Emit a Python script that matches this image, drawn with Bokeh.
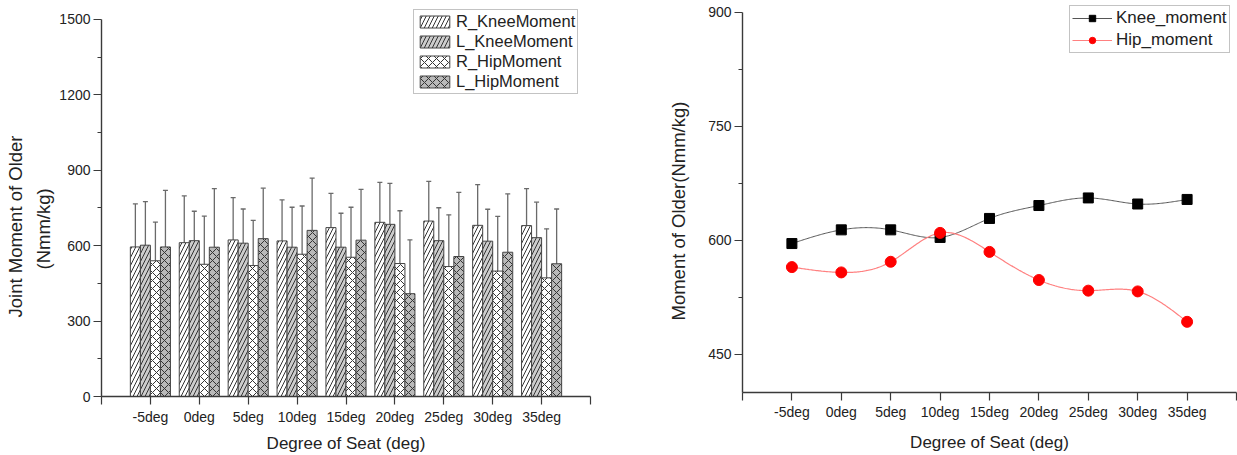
import numpy as np
from bokeh.plotting import figure
from bokeh.layouts import row, column
from bokeh.models import (ColumnDataSource, Range1d, FixedTicker, Whisker, TeeHead,
                          Legend, LegendItem, Title)
from bokeh.embed import file_html
from bokeh.resources import INLINE

# ---------------- data ----------------
categories = ["-5deg", "0deg", "5deg", "10deg", "15deg", "20deg", "25deg", "30deg", "35deg"]

r_knee = [595, 612, 623, 619, 672, 693, 698, 681, 680]
r_knee_sd = [171, 186, 168, 163, 136, 159, 158, 162, 147]
l_knee = [602, 620, 610, 594, 594, 685, 620, 618, 632]
l_knee_sd = [173, 117, 136, 159, 135, 163, 131, 127, 141]
r_hip = [540, 526, 521, 566, 554, 529, 517, 499, 472]
r_hip_sd = [154, 192, 180, 192, 199, 210, 206, 218, 195]
l_hip = [595, 594, 628, 661, 622, 409, 557, 574, 528]
l_hip_sd = [225, 233, 201, 208, 202, 214, 255, 232, 218]

knee_moment = [596, 614, 614, 604, 629, 646, 656, 648, 654]
hip_moment = [565, 558, 572, 610, 585, 548, 534, 533, 493]

bar_series = ["R_KneeMoment", "L_KneeMoment", "R_HipMoment", "L_HipMoment"]
left_y_ticks = [0, 300, 600, 900, 1200, 1500]
right_y_ticks = [450, 600, 750, 900]

# ---------------- styling ----------------
FONT = "Liberation Sans"
TXT = "#222222"
AXC = "#3a3a3a"

xpos = list(range(1, len(categories) + 1))
overrides = {i: c for i, c in zip(xpos, categories)}
overrides[0] = ""
overrides[len(categories) + 1] = ""


def style_axes(p):
    for ax in (p.xaxis[0], p.yaxis[0]):
        ax.axis_line_color = AXC
        ax.axis_line_width = 1.4
        ax.major_tick_line_color = AXC
        ax.minor_tick_line_color = AXC
        ax.major_tick_line_width = 1.2
        ax.minor_tick_line_width = 1.2
        ax.major_tick_in = 0
        ax.major_tick_out = 8
        ax.minor_tick_in = 0
        ax.minor_tick_out = 4
        ax.major_label_text_font = FONT
        ax.major_label_text_font_size = "14px"
        ax.major_label_text_color = TXT
        ax.axis_label_text_font = FONT
        ax.axis_label_text_font_size = "17px"
        ax.axis_label_text_font_style = "normal"
        ax.axis_label_text_color = TXT
    p.yaxis[0].major_label_standoff = 3
    p.grid.visible = False
    p.outline_line_color = None
    p.background_fill_color = "white"
    p.border_fill_color = "white"


def side_title(text, offset, standoff):
    # align="left" on the left side: text starts 'offset' px above the frame bottom
    return Title(text=text, align="left", offset=offset, standoff=standoff,
                 text_font=FONT, text_font_size="18.5px", text_font_style="normal",
                 text_color=TXT)


def natural_spline(x, y, n=40):
    x = np.asarray(x, float)
    y = np.asarray(y, float)
    N = len(x)
    h = np.diff(x)
    A = np.zeros((N, N))
    b = np.zeros(N)
    A[0, 0] = 1.0
    A[-1, -1] = 1.0
    for i in range(1, N - 1):
        A[i, i - 1] = h[i - 1]
        A[i, i] = 2 * (h[i - 1] + h[i])
        A[i, i + 1] = h[i]
        b[i] = 3 * ((y[i + 1] - y[i]) / h[i] - (y[i] - y[i - 1]) / h[i - 1])
    c = np.linalg.solve(A, b)
    xs, ys = [], []
    for i in range(N - 1):
        bi = (y[i + 1] - y[i]) / h[i] - h[i] * (2 * c[i] + c[i + 1]) / 3
        di = (c[i + 1] - c[i]) / (3 * h[i])
        t = np.linspace(0, h[i], n, endpoint=(i == N - 2))
        xs.extend(x[i] + t)
        ys.extend(y[i] + bi * t + c[i] * t ** 2 + di * t ** 3)
    return xs, ys


# ---------------- left chart ----------------
p1 = figure(width=620, height=455, output_backend="svg", toolbar_location=None,
            x_range=Range1d(0, len(categories) + 1), y_range=Range1d(0, 1543.7),
            min_border_left=97, min_border_right=30, min_border_top=8, min_border_bottom=58)
style_axes(p1)
p1.yaxis[0].bounds = (0, 1500)
p1.xaxis[0].ticker = FixedTicker(ticks=list(range(0, len(categories) + 2)), minor_ticks=[])
p1.xaxis[0].major_label_overrides = overrides
p1.xaxis[0].major_label_standoff = 4
p1.xaxis[0].axis_label_standoff = 6
p1.yaxis[0].ticker = FixedTicker(ticks=left_y_ticks, minor_ticks=[150, 450, 750, 1050, 1350])
p1.xaxis[0].axis_label = "Degree of Seat (deg)"

bw = 0.205
offsets = [-1.5 * bw, -0.5 * bw, 0.5 * bw, 1.5 * bw]
vals = [r_knee, l_knee, r_hip, l_hip]
sds = [r_knee_sd, l_knee_sd, r_hip_sd, l_hip_sd]
fills = ["white", "#cccccc", "white", "#b9b9b9"]
hatches = ["/", "/", "x", "x"]
items = []
for name, v, s, off, fc, hp in zip(bar_series, vals, sds, offsets, fills, hatches):
    src = ColumnDataSource(dict(
        x=[xp + off for xp in xpos], top=v,
        upper=[a + b for a, b in zip(v, s)], lower=[a - b for a, b in zip(v, s)]))
    r = p1.vbar(x="x", top="top", bottom=0, width=bw, source=src,
                fill_color=fc, line_color="#444444", line_width=1,
                hatch_pattern=hp, hatch_color="#333333", hatch_scale=8, hatch_weight=1)
    w = Whisker(base="x", upper="upper", lower="lower", source=src,
                line_color="#6a6a6a", line_width=1.3,
                upper_head=TeeHead(size=5, line_color="#6a6a6a", line_width=1.3),
                lower_head=TeeHead(size=0, line_alpha=0))
    p1.add_layout(w)
    items.append(LegendItem(label=name, renderers=[r]))

leg1 = Legend(items=items, location=(312, 302), border_line_color="#888888",
              border_line_width=1, label_text_font=FONT, label_text_font_size="16.5px",
              label_text_color=TXT, glyph_width=37, glyph_height=15, label_height=19,
              spacing=1, padding=2, label_standoff=3, background_fill_alpha=1)
p1.add_layout(leg1)

# two-line y title (inner line first, outer line second)
p1.add_layout(side_title("(Nmm/kg)", 127, 5), "left")
p1.add_layout(side_title("Joint Moment of Older", 79, 5), "left")

# ---------------- right chart ----------------
p2 = figure(width=617, height=455, output_backend="svg", toolbar_location=None,
            x_range=Range1d(0, len(categories) + 1), y_range=Range1d(400, 910.5),
            min_border_left=122, min_border_right=1, min_border_top=4, min_border_bottom=63)
style_axes(p2)
p2.yaxis[0].bounds = (400, 900)
p2.xaxis[0].ticker = FixedTicker(ticks=list(range(0, len(categories) + 2)), minor_ticks=[])
p2.xaxis[0].major_label_overrides = overrides
p2.xaxis[0].major_label_standoff = 3
p2.xaxis[0].axis_label_standoff = 10
p2.yaxis[0].ticker = FixedTicker(ticks=right_y_ticks, minor_ticks=[525, 675, 825])
p2.xaxis[0].axis_label = "Degree of Seat (deg)"

kx, ky = natural_spline(xpos, knee_moment)
hx, hy = natural_spline(xpos, hip_moment)
lk = p2.line(kx, ky, line_color="#555555", line_width=1)
lh = p2.line(hx, hy, line_color="#ff8080", line_width=1.2)
sk = p2.scatter(xpos, knee_moment, marker="square", size=10, fill_color="black", line_color="black")
sh = p2.scatter(xpos, hip_moment, marker="circle", size=11, fill_color="#ff0000", line_color="#ff0000")

leg2 = Legend(items=[LegendItem(label="Knee_moment", renderers=[lk, sk]),
                     LegendItem(label="Hip_moment", renderers=[lh, sh])],
              location=(327, 339), border_line_color="#888888", border_line_width=1,
              label_text_font=FONT, label_text_font_size="17px", label_text_color=TXT,
              glyph_width=40, glyph_height=16, label_height=20, spacing=2, padding=2,
              label_standoff=4)
p2.add_layout(leg2)

p2.add_layout(side_title("Moment of Older(Nmm/kg)", 72, 34), "left")

layout = row(column(p1), column(p2))
open("out.html", "w").write(file_html(layout, INLINE))
